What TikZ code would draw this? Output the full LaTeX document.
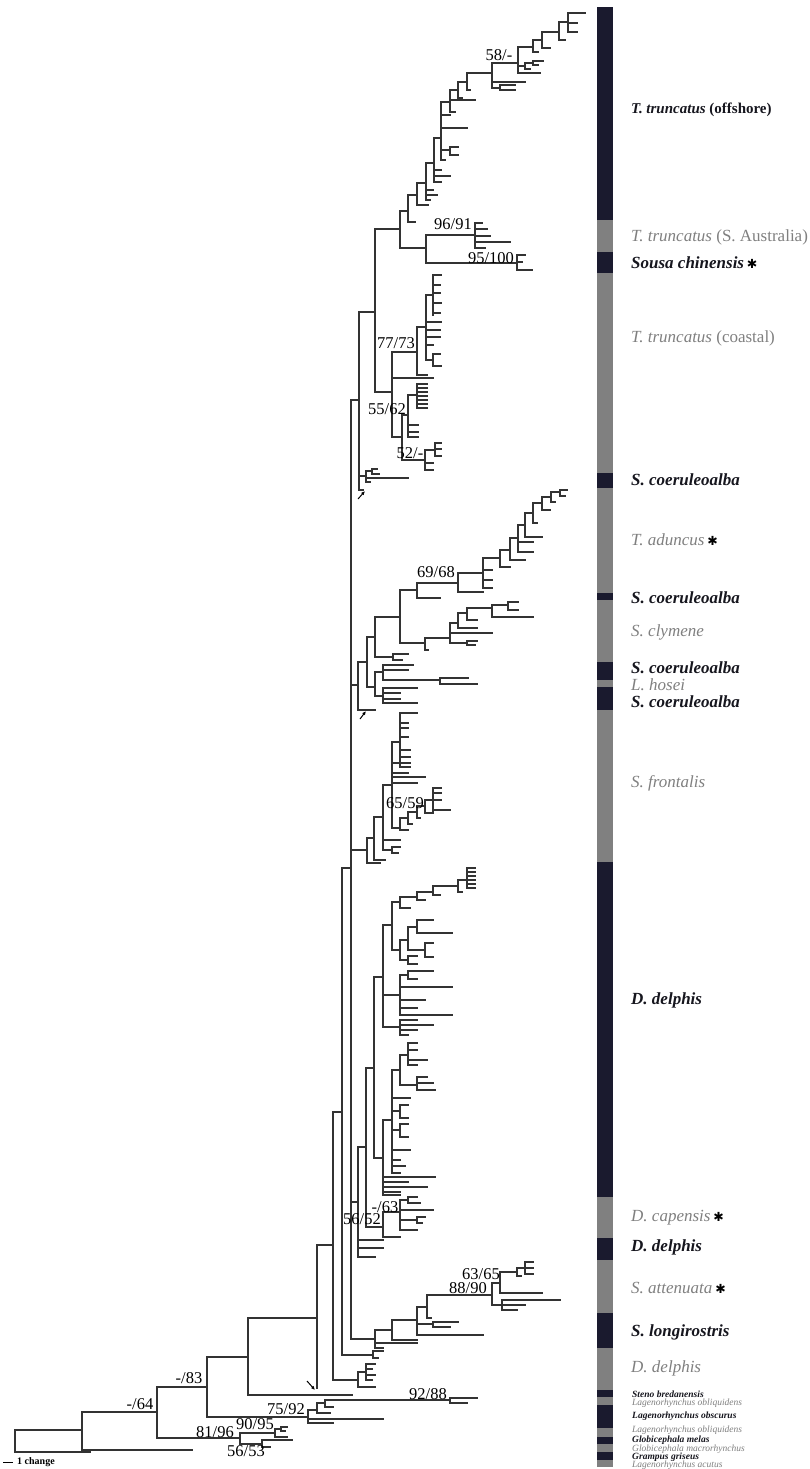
\documentclass[tikz,border=0pt]{standalone}
\usepackage{fontspec}
\setmainfont{Liberation Serif}
\newfontfamily\symfont{DejaVu Sans}
\usetikzlibrary{arrows.meta}
\definecolor{bardk}{RGB}{26,26,46}
\definecolor{bargr}{RGB}{128,128,128}
\definecolor{labgr}{RGB}{128,128,128}
\definecolor{labdk}{RGB}{22,22,30}
\newcommand{\mk}{\,\textcolor{black}{\symfont\fontsize{12.5}{12.5}\selectfont ✱}}
\newcommand{\vl}[1]{\foreach \x/\a/\b in {#1} \draw[br] (\x,\a) -- (\x,\b);}
\newcommand{\hl}[1]{\foreach \y/\a/\b in {#1} \draw[br] (\a,\y) -- (\b,\y);}

\begin{document}
\begin{tikzpicture}[x=1pt,y=-1pt,
  br/.style={draw=black!80,line width=1.2pt,line cap=rect},
  sp/.style={anchor=west,inner sep=0pt,text=labdk,font=\fontsize{17}{17}\selectfont\bfseries\itshape},
  sg/.style={anchor=west,inner sep=0pt,text=labgr,font=\fontsize{17}{17}\selectfont\itshape},
  ss/.style={anchor=west,inner sep=0pt,text=labdk,font=\fontsize{9.5}{9.5}\selectfont\bfseries\itshape},
  sh/.style={anchor=west,inner sep=0pt,text=labgr,font=\fontsize{9.5}{9.5}\selectfont\itshape},
  bs/.style={inner sep=0pt,font=\fontsize{16.5}{16.5}\selectfont},
  nt/.style={-{Latex[length=4pt,width=3.5pt]},line width=1pt,black}]
\fill[white] (0,0) rectangle (810,1469);
\useasboundingbox (0,0) rectangle (810,1469);
% ---------------- backbone
\vl{15/1430/1452, 82/1412/1450, 157/1387/1438, 207/1357/1417, 248/1318/1395, 317/1245/1388, 333/1112/1380, 342/868/1355, 351/400/1339}
\hl{1430/15/82, 1452/15/90, 1412/82/157, 1450/82/192, 1387/157/207, 1438/157/240, 1357/207/248, 1417/207/308, 1318/248/317, 1395/248/352, 1245/317/333, 1112/333/342, 1380/333/358, 868/342/351, 1355/342/373, 400/351/359, 685/351/358, 850/351/367, 1202/351/358, 1339/351/375}
% ---------------- outgroups
\vl{240/1433/1444, 275/1429/1437, 281/1427/1431, 262/1440/1447, 308/1410/1423, 317/1403/1413, 325/1400/1407, 450/1398/1403}
\hl{1433/240/275, 1444/240/262, 1429/275/281, 1437/275/287, 1427/281/287, 1431/281/285, 1440/262/292, 1447/262/270, 1410/308/317, 1419/308/383, 1423/308/333, 1403/317/325, 1413/317/330, 1400/325/450, 1407/325/333, 1398/450/477, 1403/450/467}
% ---------------- attenuata, longirostris
\vl{358/1372/1387, 366/1364/1380, 373/1351/1358, 375/1330/1348, 392/1320/1340, 417/1307/1335, 433/1322/1327, 427/1295/1318, 492/1283/1305, 500/1272/1293, 517/1268/1276, 525/1262/1274, 502/1300/1310}
\hl{1372/358/366, 1387/358/375, 1364/366/375, 1369/366/372, 1375/366/375, 1380/366/372, 1351/373/383, 1358/373/378, 1330/375/392, 1343/375/417, 1348/375/383, 1320/392/417, 1340/392/417, 1307/417/427, 1324/417/433, 1335/417/483, 1322/433/458, 1327/433/450, 1295/427/492, 1318/427/431, 1283/492/500, 1305/492/502, 1272/500/517, 1293/500/542, 1268/517/525, 1276/517/521, 1262/525/533, 1268/525/533, 1274/525/533, 1300/502/560, 1305/502/525, 1310/502/517}
% ---------------- delphis, capensis
\vl{358/1147/1257, 366/1068/1227, 383/1212/1237, 400/1200/1230, 408/1197/1203, 417/1217/1223, 374/977/1158, 383/925/1027, 392/902/950, 400/897/908, 417/892/900, 433/886/895, 458/880/892, 467/868/888, 400/940/960, 408/927/950, 417/920/933, 425/943/957, 408/956/964, 400/975/1015, 408/971/979, 400/1020/1035, 383/1120/1195, 392/1070/1173, 400/1105/1118, 400/1124/1137, 400/1055/1085, 408/1043/1065, 417/1077/1090}
\hl{1147/358/366, 1240/358/383, 1248/358/383, 1257/358/375, 1068/366/374, 1227/366/383, 1212/383/400, 1237/383/400, 1200/400/408, 1210/400/433, 1220/400/417, 1230/400/417, 1197/408/417, 1203/408/420, 1217/417/425, 1223/417/422, 977/374/383, 1158/374/383, 925/383/392, 995/383/400, 1027/383/400, 902/392/400, 950/392/400, 897/400/417, 908/400/410, 892/417/433, 900/417/425, 886/433/458, 895/433/440, 880/458/467, 892/458/462, 868/467/475, 872/467/475, 876/467/475, 880/467/475, 884/467/475, 888/467/475, 940/400/408, 960/400/408, 927/408/417, 950/408/425, 920/417/433, 933/417/452, 943/425/433, 957/425/433, 956/408/417, 964/408/417, 975/400/408, 971/408/433, 979/408/417, 987/400/452, 1000/400/425, 1008/400/417, 1015/400/452, 1020/400/417, 1025/400/433, 1030/400/417, 1035/400/408, 1120/383/392, 1177/383/435, 1182/383/408, 1187/383/427, 1192/383/400, 1195/383/400, 1070/392/400, 1098/392/410, 1111/392/400, 1130/392/400, 1150/392/410, 1160/392/400, 1166/392/405, 1173/392/400, 1105/400/408, 1118/400/408, 1124/400/408, 1137/400/408, 1055/400/408, 1085/400/417, 1043/408/417, 1050/408/417, 1060/408/427, 1065/408/417, 1077/417/427, 1083/417/433, 1090/417/435}
% ---------------- frontalis
\vl{367/838/863, 374/817/860, 383/785/850, 392/847/853, 392/742/828, 400/713/767, 400/818/830, 408/812/824, 417/806/818, 425/800/813, 433/788/812}
\hl{838/367/374, 863/367/380, 817/374/383, 860/374/385, 785/383/392, 840/383/400, 850/383/392, 847/392/400, 853/392/398, 742/392/400, 763/392/410, 773/392/408, 777/392/425, 783/392/417, 828/392/400, 713/400/417, 723/400/408, 728/400/408, 737/400/408, 750/400/410, 757/400/410, 767/400/410, 818/400/408, 830/400/408, 812/408/417, 824/408/412, 806/417/425, 818/417/420, 800/425/433, 813/425/433, 788/433/441, 793/433/441, 800/433/441, 810/433/450}
% ---------------- aduncus, clymene, hosei
\vl{358/662/710, 367/637/687, 375/617/657, 393/654/660, 400/590/643, 417/583/598, 458/573/592, 483/558/588, 500/550/567, 510/538/560, 518/525/552, 525/513/537, 533/503/523, 542/497/510, 551/492/502, 560/490/496, 425/638/650, 450/623/643, 467/641/645, 458/613/628, 467/608/620, 492/605/617, 508/602/610, 375/672/696, 383/665/680, 440/678/684, 383/688/703}
\hl{662/358/367, 710/358/375, 637/367/375, 687/367/375, 617/375/400, 657/375/393, 654/393/408, 660/393/402, 590/400/417, 643/400/425, 583/417/458, 598/417/440, 573/458/483, 592/458/483, 558/483/500, 570/483/492, 580/483/492, 588/483/492, 550/500/510, 567/500/510, 538/510/518, 560/510/525, 525/518/525, 542/518/533, 552/518/533, 513/525/533, 537/525/542, 503/533/542, 523/533/537, 497/542/551, 510/542/550, 492/551/560, 502/551/555, 490/560/567, 496/560/565, 638/425/450, 650/425/428, 623/450/458, 633/450/492, 643/450/467, 641/467/477, 645/467/475, 613/458/467, 628/458/477, 608/467/492, 620/467/477, 605/492/508, 617/492/533, 602/508/518, 610/508/518, 672/375/383, 696/375/383, 665/383/413, 670/383/408, 680/383/440, 678/440/468, 684/440/477, 688/383/417, 693/383/400, 699/383/400, 703/383/417}
% ---------------- truncatus, Sousa
\vl{359/312/490, 366/471/482, 372/469/474, 375/229/392, 392/352/437, 417/327/375, 426/295/360, 433/275/315, 433/354/366, 402/415/460, 408/395/437, 417/384/408, 425/450/470, 435/443/456, 400/211/248, 426/235/263, 475/223/248, 517/255/270, 408/195/222, 417/183/205, 426/163/200, 434/138/182, 441/102/160, 450/147/155, 450/90/112, 458/82/98, 467/73/90, 492/63/88, 500/85/90, 518/47/73, 525/63/69, 533/61/65, 533/40/52, 542/32/48, 559/22/40, 568/13/32}
\hl{312/359/375, 476/359/366, 490/359/363, 471/366/372, 478/366/408, 482/366/370, 469/372/377, 474/372/379, 229/375/400, 392/375/392, 352/392/417, 378/392/433, 437/392/402, 327/417/426, 375/417/427, 295/426/433, 322/426/441, 330/426/440, 337/426/440, 345/426/433, 360/426/433, 275/433/441, 285/433/440, 293/433/440, 303/433/441, 313/433/440, 354/433/440, 366/433/441, 415/402/408, 460/402/425, 395/408/417, 425/408/418, 432/408/418, 437/408/418, 384/417/427, 388/417/427, 392/417/427, 396/417/427, 400/417/427, 404/417/427, 408/417/427, 450/425/435, 463/425/433, 470/425/433, 443/435/441, 449/435/441, 456/435/441, 211/400/408, 248/400/426, 235/426/475, 263/426/517, 223/475/482, 229/475/487, 236/475/490, 242/475/510, 248/475/485, 255/517/525, 262/517/522, 270/517/532, 195/408/417, 222/408/415, 183/417/426, 205/417/428, 163/426/434, 190/426/433, 195/426/437, 200/426/430, 138/434/441, 170/434/441, 176/434/450, 182/434/441, 102/441/450, 115/441/450, 128/441/467, 150/441/450, 160/441/445, 147/450/458, 155/450/458, 90/450/458, 100/450/475, 112/450/455, 82/458/467, 98/458/462, 73/467/492, 90/467/470, 63/492/518, 82/492/525, 88/492/500, 85/500/515, 90/500/515, 47/518/533, 66/518/525, 73/518/540, 63/525/533, 69/525/530, 61/533/543, 65/533/538, 40/533/542, 52/533/538, 32/542/559, 48/542/550, 22/559/568, 40/559/565, 13/568/585, 23/568/577, 32/568/577}
% ---------------- marker arrows
\coordinate (m1a) at (358,499); \coordinate (m1b) at (365,491);
\coordinate (m2a) at (360,719); \coordinate (m2b) at (366,711);
\coordinate (m3a) at (307,1381); \coordinate (m3b) at (315,1390);
\draw[nt] (m1a) -- (m1b);
\draw[nt] (m2a) -- (m2b);
\draw[nt] (m3a) -- (m3b);
% ---------------- support values
\node[bs] (b1) at (499,55) {58/-};
\node[bs] (b2) at (453,224) {96/91};
\node[bs] (b3) at (491,258) {95/100};
\node[bs] (b4) at (396,343) {77/73};
\node[bs] (b5) at (387,409) {55/62};
\node[bs] (b6) at (410,453) {52/-};
\node[bs] (b7) at (436,572) {69/68};
\node[bs] (b8) at (405,803) {65/59};
\node[bs] (b9) at (385,1207) {-/63};
\node[bs] (b10) at (362,1219) {56/52};
\node[bs] (b11) at (481,1274) {63/65};
\node[bs] (b12) at (468,1288) {88/90};
\node[bs] (b13) at (428,1394) {92/88};
\node[bs] (b14) at (286,1409) {75/92};
\node[bs] (b15) at (189,1378) {-/83};
\node[bs] (b16) at (140,1404) {-/64};
\node[bs] (b17) at (215,1432) {81/96};
\node[bs] (b18) at (255,1424) {90/95};
\node[bs] (b19) at (246,1451) {56/53};
% ---------------- scale
\coordinate (sc0) at (3,1462); \coordinate (sc1) at (13,1462);
\draw[line width=1pt] (sc0) -- (sc1);
\node[anchor=west,inner sep=0pt,font=\fontsize{10}{10}\selectfont\bfseries] (sct) at (17,1462) {1 change};
% ---------------- bar
\fill[bargr] (597,220) rectangle (613,1467);
\foreach \a/\b in {7/220, 252/273, 473/488, 593/600, 662/680, 687/710, 862/1197, 1238/1260, 1313/1348, 1390/1397, 1405/1428, 1437/1444, 1452/1460}
  \fill[bardk] (597,\a) rectangle (613,\b);
% ---------------- taxa
\node[sp,font=\fontsize{15}{15}\selectfont\bfseries\itshape] (t1) at (631,110) {T. truncatus {\upshape(offshore)}};
\node[sg] (t2) at (631,237) {T. truncatus {\upshape(S. Australia)}};
\node[sp] (t3) at (631,263) {Sousa chinensis\mk};
\node[sg] (t4) at (631,338) {T. truncatus {\upshape(coastal)}};
\node[sp] (t5) at (631,480) {S. coeruleoalba};
\node[sg] (t6) at (631,540) {T. aduncus\mk};
\node[sp] (t7) at (631,598) {S. coeruleoalba};
\node[sg] (t8) at (631,632) {S. clymene};
\node[sp] (t9) at (631,668) {S. coeruleoalba};
\node[sg] (t10) at (631,685) {L. hosei};
\node[sp] (t11) at (631,702) {S. coeruleoalba};
\node[sg] (t12) at (631,783) {S. frontalis};
\node[sp] (t13) at (631,1000) {D. delphis};
\node[sg] (t14) at (631,1218) {D. capensis\mk};
\node[sp] (t15) at (631,1247) {D. delphis};
\node[sg] (t16) at (631,1288) {S. attenuata\mk};
\node[sp] (t17) at (631,1332) {S. longirostris};
\node[sg] (t18) at (631,1368) {D. delphis};
\node[ss] (t19) at (632,1394) {Steno bredanensis};
\node[sh] (t20) at (632,1403) {Lagenorhynchus obliquidens};
\node[ss] (t21) at (632,1416) {Lagenorhynchus obscurus};
\node[sh] (t22) at (632,1430) {Lagenorhynchus obliquidens};
\node[ss] (t23) at (632,1440) {Globicephala melas};
\node[sh] (t24) at (632,1449) {Globicephala macrorhynchus};
\node[ss] (t25) at (632,1457) {Grampus griseus};
\node[sh] (t26) at (632,1465) {Lagenorhynchus acutus};
\end{tikzpicture}
\end{document}
